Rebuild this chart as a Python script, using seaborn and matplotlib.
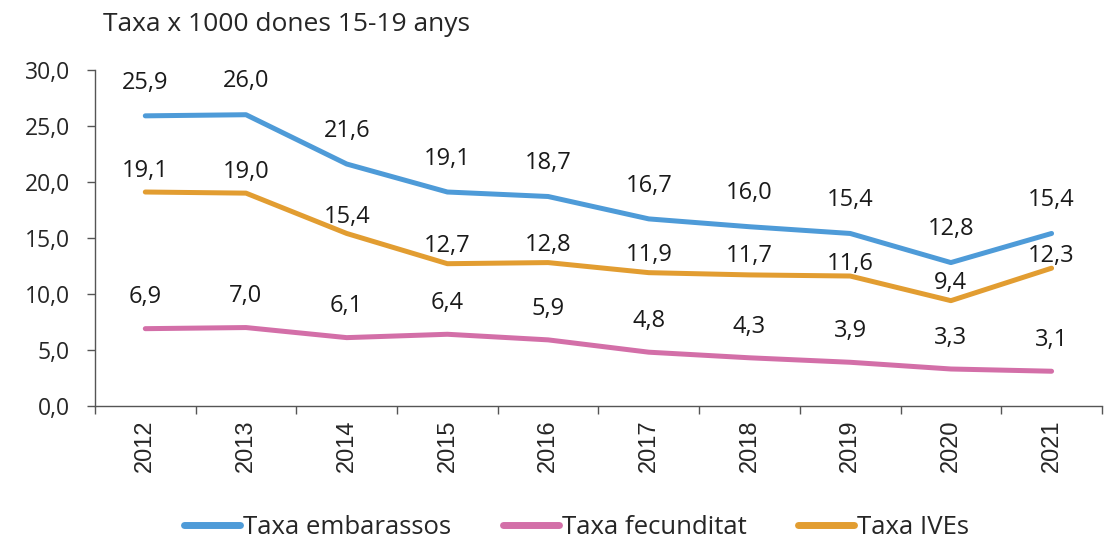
import matplotlib
matplotlib.use("Agg")
import matplotlib.pyplot as plt
import seaborn as sns
import pandas as pd
import numpy as np

years = ["2012", "2013", "2014", "2015", "2016", "2017", "2018", "2019", "2020", "2021"]
embarassos = [25.9, 26.0, 21.6, 19.1, 18.7, 16.7, 16.0, 15.4, 12.8, 15.4]
fecunditat = [6.9, 7.0, 6.1, 6.4, 5.9, 4.8, 4.3, 3.9, 3.3, 3.1]
ives = [19.1, 19.0, 15.4, 12.7, 12.8, 11.9, 11.7, 11.6, 9.4, 12.3]
series_names = ["Taxa embarassos", "Taxa fecunditat", "Taxa IVEs"]
colors = ["#4E9BD8", "#D36FA8", "#E29D31"]

sns.set_style("white")
plt.rcParams["font.family"] = ["Open Sans", "DejaVu Sans"]

df = pd.concat([
    pd.DataFrame({"year": years, "value": vals, "serie": name})
    for name, vals in zip(series_names, [embarassos, fecunditat, ives])
])

fig = plt.figure(figsize=(11.17, 5.42), dpi=100)
ax = fig.add_axes([0.085, 0.251, 0.9015, 0.620])

sns.lineplot(data=df, x="year", y="value", hue="serie", palette=colors,
             linewidth=3.6, ax=ax, legend=True, sort=False)
for ln in ax.get_lines():
    ln.set_solid_capstyle("round")

# label offsets (points, vertical)
off = {
    "Taxa embarassos": [24] * 10,
    "Taxa fecunditat": [22.5] * 10,
    "Taxa IVEs": [15, 15, 11.5, 13, 12.5, 12.5, 13.5, 9, 12.5, 8.5],
}
for name, vals in zip(series_names, [embarassos, fecunditat, ives]):
    for i, v in enumerate(vals):
        ax.annotate(f"{v:.1f}".replace(".", ","), (i, v), xytext=(0, off[name][i]),
                    textcoords="offset points", ha="center", va="center",
                    fontsize=17, color="#1a1a1a")

ax.set_ylim(0, 30)
ax.set_yticks(np.arange(0, 31, 5))
ax.set_yticklabels([f"{t:.1f}".replace(".", ",") for t in np.arange(0, 31, 5)], fontsize=16.5)
ax.set_xlim(-0.5, 9.5)
ax.set_xticks(range(len(years)))
ax.set_xticklabels(years, rotation=90, fontsize=17, family=["Liberation Sans"])
ax.set_xticks(np.arange(-0.5, 10, 1), minor=True)
ax.tick_params(axis="x", which="major", bottom=True, length=0, pad=10)
ax.tick_params(axis="x", which="minor", bottom=True, length=6, width=1, color="#555555", direction="out")
ax.tick_params(axis="y", left=True, length=6, width=1, color="#555555", direction="out", pad=12)
ax.set_xlabel("")
ax.set_ylabel("")
for s in ["top", "right"]:
    ax.spines[s].set_visible(False)
for s in ["left", "bottom"]:
    ax.spines[s].set_color("#555555")
    ax.spines[s].set_linewidth(1)

fig.text(0.092, 0.955, "Taxa x 1000 dones 15-19 anys", fontsize=19, ha="left", va="center")

handles, labels = ax.get_legend_handles_labels()
ax.legend_.remove()
leg = fig.legend(handles, labels, loc="center", bbox_to_anchor=(0.516, 0.026), ncol=3,
                 frameon=False, fontsize=18.5, handlelength=2.2, handletextpad=0.1,
                 columnspacing=2.0)
for h in leg.get_lines():
    h.set_linewidth(5)
    h.set_solid_capstyle("round")

fig.savefig("out.png", dpi=100)
